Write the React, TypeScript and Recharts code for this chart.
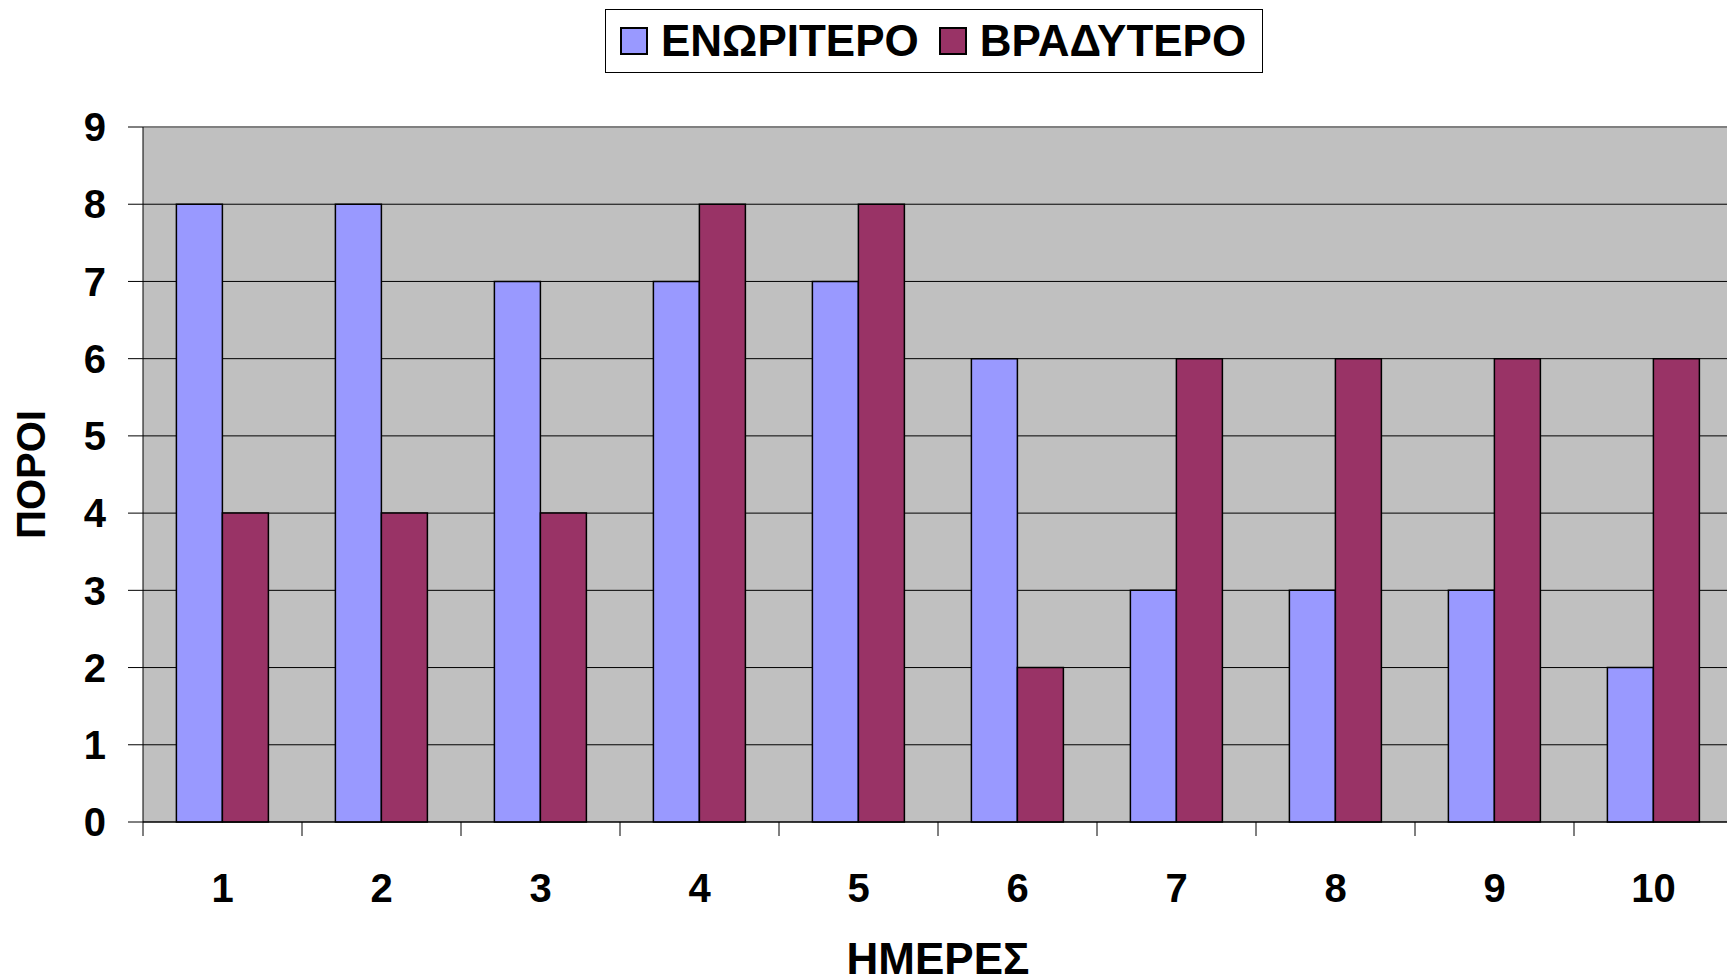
import React from 'react'
import {
  BarChart, Bar, XAxis, YAxis, CartesianGrid, Legend, ReferenceLine,
} from 'recharts'

const DAYS = ['1', '2', '3', '4', '5', '6', '7', '8', '9', '10']
const EARLIER = [8, 8, 7, 7, 7, 6, 3, 3, 3, 2]
const LATER = [4, 4, 4, 8, 8, 2, 6, 6, 6, 6]
const Y_TICKS = [0, 1, 2, 3, 4, 5, 6, 7, 8, 9]

const SERIES = [
  { key: 'early', name: 'ΕΝΩΡΙΤΕΡΟ', color: '#9999FF' },
  { key: 'late', name: 'ΒΡΑΔΥΤΕΡΟ', color: '#993366' },
]

const FONT = "Arial, 'Liberation Sans', sans-serif"

const W = 1740
const H = 978
const PLOT_LEFT = 143
const PLOT_RIGHT = 7
const BAND = (W - PLOT_LEFT - PLOT_RIGHT) / DAYS.length

const data = DAYS.map((d, i) => ({ day: d, early: EARLIER[i], late: LATER[i] }))

function DayTick(props: any) {
  const { x, y, payload, index } = props
  return (
    <g>
      <line x1={x - BAND / 2} x2={x - BAND / 2} y1={y} y2={y + 14} stroke="#000" strokeWidth={1} />
      {index === DAYS.length - 1 && (
        <line x1={x + BAND / 2} x2={x + BAND / 2} y1={y} y2={y + 14} stroke="#000" strokeWidth={1} />
      )}
      <text
        x={x}
        y={y + 66}
        textAnchor="middle"
        dominantBaseline="central"
        fontFamily={FONT}
        fontWeight="bold"
        fontSize={40}
        fill="#000"
      >
        {payload.value}
      </text>
    </g>
  )
}

function LegendBox() {
  return (
    <div
      style={{
        boxSizing: 'border-box',
        width: 658,
        height: 64,
        border: '1px solid #000',
        background: '#fff',
        display: 'flex',
        alignItems: 'center',
        paddingLeft: 14,
        fontFamily: FONT,
        fontWeight: 'bold',
        fontSize: 44,
        color: '#000',
        whiteSpace: 'nowrap',
      }}
    >
      {SERIES.map((s, i) => (
        <div key={s.key} style={{ display: 'flex', alignItems: 'center', marginLeft: i === 0 ? 0 : 20 }}>
          <span
            style={{
              display: 'inline-block',
              boxSizing: 'border-box',
              width: 28,
              height: 28,
              background: s.color,
              border: '2px solid #000',
              marginRight: 13,
            }}
          />
          <span style={{ lineHeight: 1 }}>{s.name}</span>
        </div>
      ))}
    </div>
  )
}

export default function App() {
  return (
    <div style={{ position: 'fixed', left: 0, top: 0, width: 1727, height: 978, overflow: 'hidden', background: '#fff' }}>
      <BarChart
        width={W}
        height={H}
        data={data}
        margin={{ top: 127, right: PLOT_RIGHT, left: 0, bottom: 0 }}
        barCategoryGap="21%"
        barGap={0}
      >
        <CartesianGrid vertical={false} stroke="#000" fill="#C0C0C0" fillOpacity={1} />
        <ReferenceLine y={9} stroke="#808080" strokeWidth={2} />
        <XAxis
          dataKey="day"
          height={156}
          tickLine={false}
          tickSize={0}
          tickMargin={0}
          axisLine={{ stroke: '#000', strokeWidth: 1 }}
          tick={<DayTick />}
          interval={0}
          label={{
            content: (p: any) => {
              const vb = p.viewBox
              return (
                <text
                  x={vb.x + vb.width / 2}
                  y={974}
                  textAnchor="middle"
                  fontFamily={FONT}
                  fontWeight="bold"
                  fontSize={44}
                  fill="#000"
                >
                  ΗΜΕΡΕΣ
                </text>
              )
            },
          }}
        />
        <YAxis
          width={PLOT_LEFT}
          domain={[0, 9]}
          ticks={Y_TICKS}
          interval={0}
          tickSize={15}
          tickMargin={22}
          tickLine={{ stroke: '#000' }}
          axisLine={{ stroke: '#000', strokeWidth: 1 }}
          tick={{ fontFamily: FONT, fontWeight: 'bold', fontSize: 40, fill: '#000' }}
          label={{
            content: (p: any) => {
              const vb = p.viewBox
              const cy = vb.y + vb.height / 2
              return (
                <text
                  x={31}
                  y={cy}
                  transform={`rotate(-90 31 ${cy})`}
                  textAnchor="middle"
                  dominantBaseline="central"
                  fontFamily={FONT}
                  fontWeight="bold"
                  fontSize={40}
                  fill="#000"
                >
                  ΠΟΡΟΙ
                </text>
              )
            },
          }}
        />
        <Legend
          layout="horizontal"
          verticalAlign="middle"
          align="center"
          wrapperStyle={{ position: 'absolute', left: 605, top: 9, width: 658, height: 64 }}
          content={() => <LegendBox />}
        />
        {SERIES.map((s) => (
          <Bar
            key={s.key}
            dataKey={s.key}
            name={s.name}
            fill={s.color}
            stroke="#000"
            strokeWidth={1.5}
            isAnimationActive={false}
          />
        ))}
      </BarChart>
    </div>
  )
}
